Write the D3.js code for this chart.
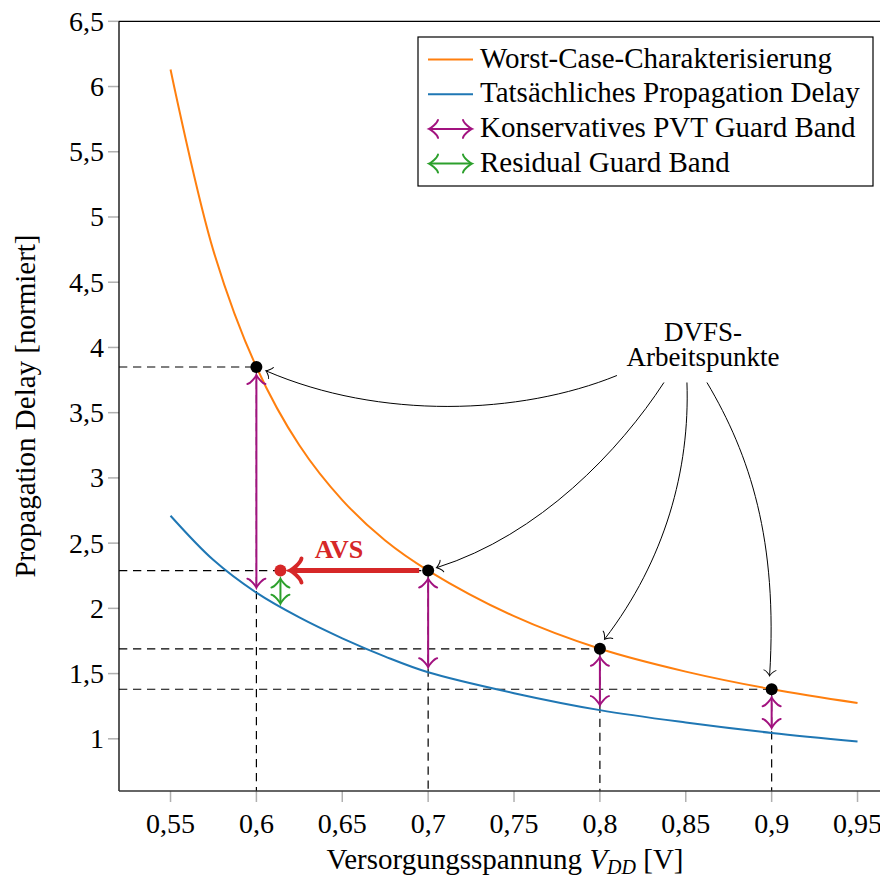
<!DOCTYPE html>
<html>
<head>
<meta charset="utf-8">
<script src="https://cdn.jsdelivr.net/npm/d3@7"></script>
<style>
  body { margin: 0; background: #fff; }
  svg { display: block; font-family: "Liberation Serif", "Times New Roman", serif; }
</style>
</head>
<body>
<svg></svg>
<script>
var vdd        = [0.55, 0.575, 0.6, 0.625, 0.65, 0.675, 0.7, 0.75, 0.8, 0.85, 0.9, 0.95];
var worstCase  = [6.13, 4.74, 3.85, 3.25, 2.83, 2.52, 2.29, 1.94, 1.69, 1.515, 1.38, 1.275];
var actual     = [2.71, 2.37, 2.12, 1.93, 1.77, 1.63, 1.51, 1.35, 1.22, 1.125, 1.045, 0.98];

var opVdd      = [0.6, 0.7, 0.8, 0.9];
var opDelay    = [3.85, 2.29, 1.69, 1.38];
var opActual   = [2.12, 1.51, 1.22, 1.045];

var avsVdd = 0.614, avsDelay = 2.29, avsActual = 2.02;

var xTicks = [0.55, 0.6, 0.65, 0.7, 0.75, 0.8, 0.85, 0.9, 0.95];
var yTicks = [1, 1.5, 2, 2.5, 3, 3.5, 4, 4.5, 5, 5.5, 6, 6.5];

var legendLabels = ["Worst-Case-Charakterisierung", "Tatsächliches Propagation Delay",
                    "Konservatives PVT Guard Band", "Residual Guard Band"];

var orange = "#ff7f0e", blue = "#1f77b4", purple = "#a2127f", green = "#2ca02c", red = "#d62728";

var width = 880, height = 885;
var plotLeft = 119, plotTop = 21.3, plotBottom = 791;
var fs = "28px";

var x = d3.scaleLinear().domain([0.52, 0.97]).range([plotLeft, plotLeft + 0.45 * 1717.5]);
var y = d3.scaleLinear().domain([0.6, 6.5]).range([plotBottom, plotTop]);
var comma = v => d3.format("")(v).replace(".", ",");

var svg = d3.select("svg")
    .attr("width", width)
    .attr("height", height);

// arrow heads ("to" style)
var defs = svg.append("defs");
function toHead(id, color, L, W, sw) {
  defs.append("marker")
      .attr("id", id)
      .attr("markerUnits", "userSpaceOnUse")
      .attr("viewBox", `${-L - 4} ${-W - 4} ${2 * L + 8} ${2 * W + 8}`)
      .attr("markerWidth", 2 * L + 8)
      .attr("markerHeight", 2 * W + 8)
      .attr("refX", 0).attr("refY", 0)
      .attr("orient", "auto-start-reverse")
      .style("overflow", "visible")
    .append("path")
      .attr("d", `M${-L},${-W} C${-0.92 * L},${-0.62 * W} ${-0.06 * L},${-0.07 * W} ${0.12 * L},0 ` +
                 `C${-0.06 * L},${0.07 * W} ${-0.92 * L},${0.62 * W} ${-L},${W}`)
      .attr("fill", "none")
      .attr("stroke", color)
      .attr("stroke-width", sw)
      .attr("stroke-linecap", "round");
}
toHead("hPurple", purple, 8, 9, 2);
toHead("hGreen", green, 8, 9, 2);
toHead("hRed", red, 10, 12, 4);
toHead("hBlack", "#000", 5, 6, 1);

// ticks
var tickColor = "#b0b0b0";
svg.append("g").selectAll("line")
  .data(xTicks).join("line")
    .attr("x1", d => x(d)).attr("x2", d => x(d))
    .attr("y1", plotBottom).attr("y2", plotBottom + 11)
    .attr("stroke", tickColor).attr("stroke-width", 1.5);
svg.append("g").selectAll("text")
  .data(xTicks).join("text")
    .attr("x", d => x(d)).attr("y", 833)
    .attr("text-anchor", "middle")
    .style("font-size", fs)
    .text(comma);

svg.append("g").selectAll("line")
  .data(yTicks).join("line")
    .attr("x1", plotLeft - 11).attr("x2", plotLeft)
    .attr("y1", d => y(d)).attr("y2", d => y(d))
    .attr("stroke", tickColor).attr("stroke-width", 1.5);
svg.append("g").selectAll("text")
  .data(yTicks).join("text")
    .attr("x", 104).attr("y", d => y(d) + 9.5)
    .attr("text-anchor", "end")
    .style("font-size", fs)
    .text(comma);

// dashed guides to the operating points
var guides = svg.append("g")
    .attr("stroke", "#000")
    .attr("stroke-width", 1.2)
    .attr("stroke-dasharray", "8.3,5.7");
opVdd.forEach((v, i) => {
  guides.append("line")
      .attr("x1", plotLeft).attr("x2", x(v))
      .attr("y1", y(opDelay[i])).attr("y2", y(opDelay[i]));
  guides.append("line")
      .attr("x1", x(v)).attr("x2", x(v))
      .attr("y1", y(opDelay[i])).attr("y2", plotBottom);
});

// curves
var line = d3.line().x(d => x(d[0])).y(d => y(d[1])).curve(d3.curveCatmullRom.alpha(0.5));
svg.append("path")
    .attr("d", line(d3.zip(vdd, worstCase)))
    .attr("fill", "none").attr("stroke", orange).attr("stroke-width", 2);
svg.append("path")
    .attr("d", line(d3.zip(vdd, actual)))
    .attr("fill", "none").attr("stroke", blue).attr("stroke-width", 2);

// guard bands
opVdd.forEach((v, i) => {
  svg.append("line")
      .attr("x1", x(v)).attr("x2", x(v))
      .attr("y1", y(opDelay[i]) + 9).attr("y2", y(opActual[i]) - 6)
      .attr("stroke", purple).attr("stroke-width", 2)
      .attr("marker-start", "url(#hPurple)")
      .attr("marker-end", "url(#hPurple)");
});
svg.append("line")
    .attr("x1", x(avsVdd)).attr("x2", x(avsVdd))
    .attr("y1", y(avsDelay) + 9).attr("y2", y(avsActual) - 3)
    .attr("stroke", green).attr("stroke-width", 2)
    .attr("marker-start", "url(#hGreen)")
    .attr("marker-end", "url(#hGreen)");

// AVS arrow
svg.append("line")
    .attr("x1", x(0.7) - 9).attr("x2", x(avsVdd) + 11)
    .attr("y1", y(avsDelay)).attr("y2", y(avsDelay))
    .attr("stroke", red).attr("stroke-width", 5)
    .attr("marker-end", "url(#hRed)");
svg.append("text")
    .attr("x", 339).attr("y", 558)
    .attr("text-anchor", "middle")
    .attr("fill", red)
    .style("font-size", "26px").style("font-weight", "bold")
    .text("AVS");

// points
svg.append("g").selectAll("circle")
  .data(opVdd).join("circle")
    .attr("cx", d => x(d)).attr("cy", (d, i) => y(opDelay[i]))
    .attr("r", 6).attr("fill", "#000");
svg.append("circle")
    .attr("cx", x(avsVdd)).attr("cy", y(avsDelay))
    .attr("r", 6).attr("fill", red);

// annotation
var ax = x(0.86), ay = y(3.9);
svg.append("text").attr("x", ax).attr("y", ay - 19)
    .attr("text-anchor", "middle").style("font-size", "27px").text("DVFS-");
svg.append("text").attr("x", ax).attr("y", ay + 6)
    .attr("text-anchor", "middle").style("font-size", "27px").text("Arbeitspunkte");

// start offset from label, control points, end offset from the point
var annoArrows = [
  { s: [-86, 15], c1: [520, 415], c2: [380, 420], e: [10, 4] },
  { s: [-39, 22], c1: [620, 450], c2: [540, 535], e: [9, -3] },
  { s: [-16, 22], c1: [690, 470], c2: [665, 560], e: [5, -10] },
  { s: [4, 22],   c1: [750, 455], c2: [778, 540], e: [-2, -14] }
];
annoArrows.forEach((a, i) => {
  var sx = ax + a.s[0], sy = ay + a.s[1];
  var ex = x(opVdd[i]) + a.e[0], ey = y(opDelay[i]) + a.e[1];
  svg.append("path")
      .attr("d", `M${sx},${sy} C${a.c1[0]},${a.c1[1]} ${a.c2[0]},${a.c2[1]} ${ex},${ey}`)
      .attr("fill", "none").attr("stroke", "#000").attr("stroke-width", 1)
      .attr("marker-end", "url(#hBlack)");
});

// frame
svg.append("line").attr("x1", plotLeft).attr("x2", width).attr("y1", plotTop).attr("y2", plotTop)
    .attr("stroke", "#000").attr("stroke-width", 1.3);
svg.append("line").attr("x1", plotLeft).attr("x2", plotLeft).attr("y1", plotTop).attr("y2", plotBottom)
    .attr("stroke", "#000").attr("stroke-width", 1.3);
svg.append("line").attr("x1", plotLeft).attr("x2", width).attr("y1", plotBottom).attr("y2", plotBottom)
    .attr("stroke", "#333").attr("stroke-width", 1.3);

// axis labels
var xl = svg.append("text")
    .attr("x", 505).attr("y", 869)
    .attr("text-anchor", "middle")
    .style("font-size", "29px");
xl.append("tspan").text("Versorgungsspannung ");
xl.append("tspan").style("font-style", "italic").text("V");
xl.append("tspan").style("font-style", "italic").style("font-size", "20px").attr("dy", 5).text("DD");
xl.append("tspan").attr("dy", -5).text(" [V]");

svg.append("text")
    .attr("transform", `translate(35, 406) rotate(-90)`)
    .attr("text-anchor", "middle")
    .style("font-size", "29px")
    .text("Propagation Delay [normiert]");

// legend
var legend = svg.append("g");
legend.append("rect")
    .attr("x", 418).attr("y", 37).attr("width", 455).attr("height", 149)
    .attr("fill", "#fff").attr("stroke", "#000").attr("stroke-width", 1.2);
var rowY = [67.5, 102.2, 136.9, 171.6];
var legendColors = [orange, blue, purple, green];
var legendHeads = [null, null, "hPurple", "hGreen"];
legendLabels.forEach((lab, i) => {
  var ly = rowY[i] - 8;
  var l = legend.append("line")
      .attr("x1", 428).attr("x2", 473)
      .attr("y1", ly).attr("y2", ly)
      .attr("stroke", legendColors[i]).attr("stroke-width", 2);
  if (legendHeads[i]) {
    l.attr("x1", 430).attr("x2", 471)
     .attr("marker-start", `url(#${legendHeads[i]})`)
     .attr("marker-end", `url(#${legendHeads[i]})`);
  }
  legend.append("text")
      .attr("x", 480).attr("y", rowY[i])
      .style("font-size", "29px")
      .text(lab);
});
</script>
</body>
</html>
